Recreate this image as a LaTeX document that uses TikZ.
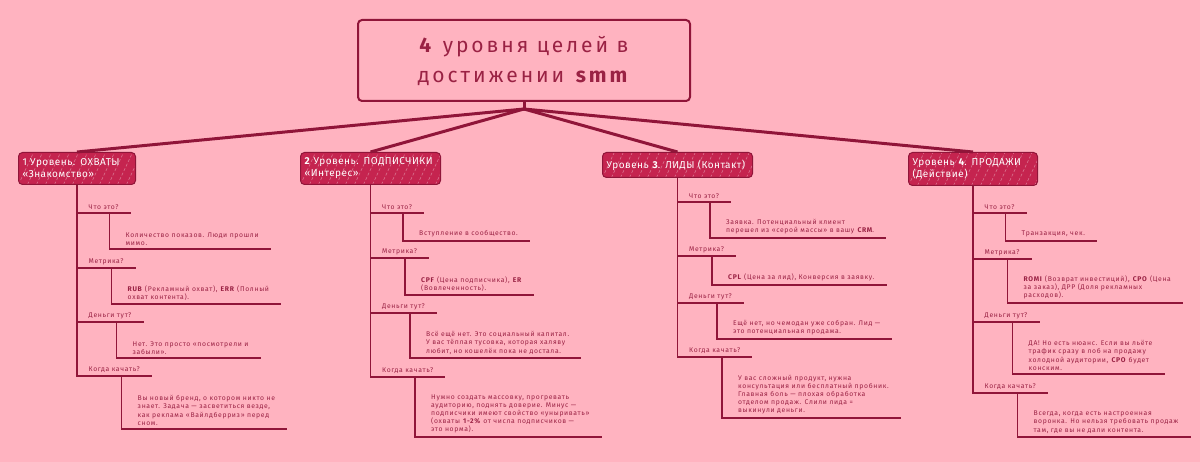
\documentclass[tikz,border=0pt]{standalone}
\usepackage{fontspec}
\usepackage{xcolor}
\usepackage{tikz}
\usetikzlibrary{positioning, arrows.meta}
\setmainfont{Fira Sans}
\newfontfamily\titlefont[LetterSpace=14]{Fira Sans}
\newfontfamily\headfont[LetterSpace=5]{Fira Sans}
\newfontfamily\notefont[LetterSpace=10]{Fira Sans}
\definecolor{bgpink}{HTML}{FFB3C0}
\definecolor{smmred}{HTML}{901539}
\definecolor{headred}{HTML}{C5244F}
\definecolor{txtred}{HTML}{9A2244}

\begin{document}
\begin{tikzpicture}[x=1pt, y=-1pt,
    ln/.style={draw=smmred, line width=1.7pt},
    fan/.style={draw=smmred, line width=3pt},
    head/.style={fill=headred, draw=smmred, line width=1pt, rounded corners=4pt,
      anchor=north west, align=left, text=white, inner xsep=4pt,
      font=\headfont\fontsize{10}{12}\selectfont,
      path picture={\foreach \i in {0,9,...,150}
        \draw[white, opacity=.35, line width=.6pt, dash pattern=on 3pt off 2pt]
          ([xshift=\i pt]path picture bounding box.south west) -- ++(16pt,34pt);}},
    qst/.style={anchor=south west, inner xsep=12pt, inner ysep=3pt,
      text=txtred, font=\notefont\fontsize{6.8}{8.2}\selectfont},
    ans/.style={anchor=south west, inner xsep=12pt, inner ysep=3.5pt, align=left,
      text=txtred, font=\notefont\fontsize{6.8}{8.2}\selectfont}]
  \fill[bgpink] (0,0) rectangle (1200,462);
  \useasboundingbox (0,0) rectangle (1200,462);

  % title
  \node[draw=smmred, line width=2pt, rounded corners=4pt, minimum width=332pt,
        minimum height=81pt, align=center, text=txtred,
        font=\titlefont\fontsize{21}{30}\selectfont] (title) at (524,60.5)
    {\textbf{4} уровня целей в\\достижении \textbf{smm}};
  \draw[fan] (title.south) -- ++(0,7) coordinate (hub);

  % level headers
  \node[head, text width=109pt, minimum height=32pt] (h1) at (18,152)
    {1 Уровень. ОХВАТЫ\\«Знакомство»};
  \node[head, text width=132pt, minimum height=32pt] (h2) at (300,152)
    {\textbf{2} Уровень. ПОДПИСЧИКИ\\«Интерес»};
  \node[head, text width=142pt, minimum height=25pt] (h3) at (602,152)
    {Уровень \textbf{3}. ЛИДЫ (Контакт)};
  \node[head, text width=121pt, minimum height=33pt] (h4) at (908,152)
    {Уровень \textbf{4}. ПРОДАЖИ\\(Действие)};
  \foreach \h in {h1,h2,h3,h4}
    \draw[fan] (hub) -- (\h.north);

  % level 1
  \node[qst] (q1a) at (76.5,213) {Что это?};
  \node[qst] (q1b) at (76.5,268) {Метрика?};
  \node[qst] (q1c) at (76.5,322) {Деньги тут?};
  \node[qst] (q1d) at (76.5,376) {Когда качать?};
  \node[ans] (a1a) at (113.5,249) {Количество показов. Люди прошли\\мимо.};
  \node[ans] (a1b) at (115.5,304) {\textbf{RUB} (Рекламный охват), \textbf{ERR} (Полный\\охват контента).};
  \node[ans] (a1c) at (120.5,358) {Нет. Это просто «посмотрели и\\забыли».};
  \node[ans] (a1d) at (125.5,429) {Вы новый бренд, о котором никто не\\знает. Задача — засветиться везде,\\как реклама «Вайлдберриз» перед\\сном.};

  % level 2
  \node[qst] (q2a) at (370,213) {Что это?};
  \node[qst] (q2b) at (370,258) {Метрика?};
  \node[qst] (q2c) at (370,313) {Деньги тут?};
  \node[qst] (q2d) at (370,377) {Когда качать?};
  \node[ans] (a2a) at (407,241) {Вступление в сообщество.};
  \node[ans] (a2b) at (409,295) {\textbf{CPF} (Цена подписчика), \textbf{ER}\\(Вовлеченность).};
  \node[ans] (a2c) at (414,358) {Всё ещё нет. Это социальный капитал.\\У вас тёплая тусовка, которая халяву\\любит, но кошелёк пока не достала.};
  \node[ans] (a2d) at (419,437) {Нужно создать массовку, прогревать\\аудиторию, поднять доверие. Минус —\\подписчики имеют свойство «уныривать»\\(охваты \textbf{1-2\%} от числа подписчиков —\\это норма).};

  % level 3
  \node[qst] (q3a) at (677,202) {Что это?};
  \node[qst] (q3b) at (677,256) {Метрика?};
  \node[qst] (q3c) at (677,303) {Деньги тут?};
  \node[qst] (q3d) at (677,357) {Когда качать?};
  \node[ans] (a3a) at (714,238) {Заявка. Потенциальный клиент\\перешел из «серой массы» в вашу \textbf{CRM}.};
  \node[ans] (a3b) at (716,285) {\textbf{CPL} (Цена за лид), Конверсия в заявку.};
  \node[ans] (a3c) at (721,339) {Ещё нет, но чемодан уже собран. Лид —\\это потенциальная продажа.};
  \node[ans] (a3d) at (726,418) {У вас сложный продукт, нужна\\консультация или бесплатный пробник.\\Главная боль — плохая обработка\\отделом продаж. Слили лида =\\выкинули деньги.};

  % level 4
  \node[qst] (q4a) at (972.5,213) {Что это?};
  \node[qst] (q4b) at (972.5,259) {Метрика?};
  \node[qst] (q4c) at (972.5,322) {Деньги тут?};
  \node[qst] (q4d) at (972.5,393) {Когда качать?};
  \node[ans] (a4a) at (1009.5,241) {Транзакция, чек.};
  \node[ans] (a4b) at (1011.5,303) {\textbf{ROMI} (Возврат инвестиций), \textbf{CPO} (Цена\\за заказ), ДРР (Доля рекламных\\расходов).};
  \node[ans] (a4c) at (1016.5,374) {ДА! Но есть нюанс. Если вы льёте\\трафик сразу в лоб на продажу\\холодной аудитории, \textbf{CPO} будет\\конским.};
  \node[ans] (a4d) at (1021.5,437) {Всегда, когда есть настроенная\\воронка. Но нельзя требовать продаж\\там, где вы не дали контента.};

  % trunks, branches and sub-branches
  \foreach \c in {1,2,3,4} {
    \foreach \q in {a,b,c,d}
      \draw[ln] (h\c.south) |- (q\c\q.south east);
    \draw[ln] ([xshift=33pt]q\c a.south west) |- (a\c a.south east);
    \draw[ln] ([xshift=35pt]q\c b.south west) |- (a\c b.south east);
    \draw[ln] ([xshift=40pt]q\c c.south west) |- (a\c c.south east);
    \draw[ln] ([xshift=45pt]q\c d.south west) |- (a\c d.south east);
  }
\end{tikzpicture}
\end{document}
